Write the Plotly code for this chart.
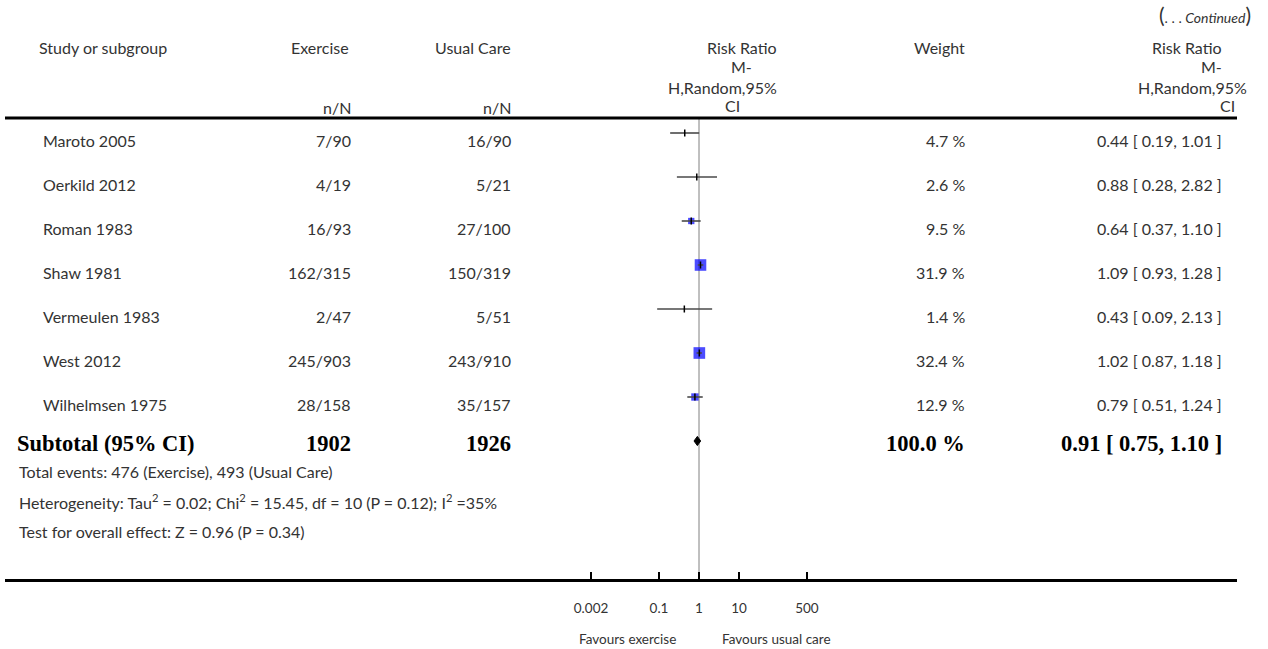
import plotly.graph_objects as go

# ---------------- data ----------------
studies = ["Maroto 2005", "Oerkild 2012", "Roman 1983", "Shaw 1981",
           "Vermeulen 1983", "West 2012", "Wilhelmsen 1975"]
exercise_nN = ["7/90", "4/19", "16/93", "162/315", "2/47", "245/903", "28/158"]
usual_nN = ["16/90", "5/21", "27/100", "150/319", "5/51", "243/910", "35/157"]
weights = [4.7, 2.6, 9.5, 31.9, 1.4, 32.4, 12.9]
rr = [0.44, 0.88, 0.64, 1.09, 0.43, 1.02, 0.79]
rr_lo = [0.19, 0.28, 0.37, 0.93, 0.09, 0.87, 0.51]
rr_hi = [1.01, 2.82, 1.10, 1.28, 2.13, 1.18, 1.24]

subtotal_label = "Subtotal (95% CI)"
subtotal_ex_N = "1902"
subtotal_uc_N = "1926"
subtotal_weight = "100.0 %"
pooled_rr = 0.91
pooled_lo = 0.75
pooled_hi = 1.10

footer_lines = [
    "Total events: 476 (Exercise), 493 (Usual Care)",
    "Heterogeneity: Tau<sup>2</sup> = 0.02; Chi<sup>2</sup> = 15.45, df = 10 (P = 0.12); I<sup>2</sup> =35%",
    "Test for overall effect: Z = 0.96 (P = 0.34)",
]

tick_vals = [0.002, 0.1, 1, 10, 500]
tick_text = ["0.002", "0.1", "1", "10", "500"]
favours_left = "Favours exercise"
favours_right = "Favours usual care"

# ---------------- layout helpers ----------------
W, H = 1268, 649
FONT = "Lato"
SERIF = "Liberation Serif"
TXT = "#333333"
FS = 16


def px(x):
    return x / W


def py(y):
    return 1 - y / H


n = len(studies)
rows = list(range(n))
sub_row = n

fig = go.Figure()

# squares (size grows with weight, tiny weights not visible)
sizes = [2.05 * (w ** 0.5) if w >= 5 else 0 for w in weights]
fig.add_trace(go.Scatter(
    x=rr, y=rows, mode="markers",
    marker=dict(symbol="square", size=sizes, color="#0000ff", line=dict(width=0)),
    hoverinfo="skip"))

# CI lines
cx, cy = [], []
for i in rows:
    cx += [rr_lo[i], rr_hi[i], None]
    cy += [i, i, None]
fig.add_trace(go.Scatter(x=cx, y=cy, mode="lines",
                         line=dict(color="#4a4a4a", width=1.6), hoverinfo="skip"))

# point estimate ticks
fig.add_trace(go.Scatter(
    x=rr, y=rows, mode="markers",
    marker=dict(symbol="line-ns", size=5, line=dict(color="black", width=1.5)),
    hoverinfo="skip"))

# pooled diamond
dh = 0.105
fig.add_trace(go.Scatter(
    x=[pooled_lo, pooled_rr, pooled_hi, pooled_rr, pooled_lo],
    y=[sub_row, sub_row - dh, sub_row, sub_row + dh, sub_row],
    mode="lines", fill="toself", fillcolor="black",
    line=dict(color="black", width=1), hoverinfo="skip"))

ann = []


def add_text(text, x, y, anchor="left", size=FS, family=FONT, yref="paper", yshift=0, color=TXT):
    ann.append(dict(text=text, x=px(x), y=y if yref == "y" else py(y),
                    xref="paper", yref=yref, xanchor=anchor, yanchor="middle",
                    showarrow=False, yshift=yshift,
                    font=dict(family=family, size=size, color=color)))


# header
add_text("<span style='font-size:21px'>(</span>. . . <i>Continued</i><span style='font-size:21px'>)</span>",
         1253, 15, anchor="right", size=14)
add_text("Study or subgroup", 37, 48)
add_text("Exercise", 351, 48, anchor="right")
add_text("Usual Care", 513, 48, anchor="right")
add_text("n/N", 353, 107, anchor="right")
add_text("n/N", 513, 107, anchor="right")
add_text("Risk Ratio", 742, 48, anchor="center")
add_text("M-", 741, 67, anchor="center")
add_text("H,Random,95%", 722, 87, anchor="center")
add_text("CI", 732, 106, anchor="center")
add_text("Weight", 967, 48, anchor="right")
add_text("Risk Ratio", 1224, 48, anchor="right")
add_text("M-", 1224, 67, anchor="right")
add_text("H,Random,95%", 1249, 87, anchor="right")
add_text("CI", 1237, 106, anchor="right")

# rows
for i in rows:
    add_text(studies[i], 41, i, yref="y", yshift=-7)
    add_text(exercise_nN[i], 353, i, anchor="right", yref="y", yshift=-7)
    add_text(usual_nN[i], 513, i, anchor="right", yref="y", yshift=-7)
    add_text(f"{weights[i]} %", 967, i, anchor="right", yref="y", yshift=-7)
    add_text(f"{rr[i]:.2f} [ {rr_lo[i]:.2f}, {rr_hi[i]:.2f} ]", 1224, i,
             anchor="right", yref="y", yshift=-7)

# subtotal
B = 22.5
add_text(f"<b>{subtotal_label}</b>", 15, sub_row, size=B, family=SERIF, yref="y", yshift=-2, color="black")
add_text(f"<b>{subtotal_ex_N}</b>", 353, sub_row, anchor="right", size=B, family=SERIF, yref="y", yshift=-2, color="black")
add_text(f"<b>{subtotal_uc_N}</b>", 513, sub_row, anchor="right", size=B, family=SERIF, yref="y", yshift=-2, color="black")
add_text(f"<b>{subtotal_weight}</b>", 967, sub_row, anchor="right", size=B, family=SERIF, yref="y", yshift=-2, color="black")
add_text(f"<b>{pooled_rr:.2f} [ {pooled_lo:.2f}, {pooled_hi:.2f} ]</b>", 1224, sub_row,
         anchor="right", size=B, family=SERIF, yref="y", yshift=-2, color="black")

for k, line in enumerate(footer_lines):
    add_text(line, 17, 471 + 30 * k, size=16)

# favours
add_text(favours_left, 678, 639, anchor="right", size=13.5)
add_text(favours_right, 720, 639, anchor="left", size=13.5)

shapes = [
    dict(type="line", xref="paper", yref="paper", x0=px(5), x1=px(1237), y0=py(118), y1=py(118),
         line=dict(color="black", width=3)),
    dict(type="line", xref="x", yref="paper", x0=1, x1=1, y0=py(119), y1=py(578),
         line=dict(color="#808080", width=1), layer="below"),
]

# axis geometry: 40 px per decade, x=1 at 699 px, axis line y=579 px
x_left, x_right, x_one, ppd = 5, 1237, 699, 40.0
row0, row_h, axis_y = 133, 44.0, 579

fig.update_layout(
    width=W, height=H, margin=dict(l=0, r=0, t=0, b=0),
    paper_bgcolor="white", plot_bgcolor="white", showlegend=False,
    annotations=ann, shapes=shapes,
    xaxis=dict(type="log", domain=[px(x_left), px(x_right)],
               range=[(x_left - x_one) / ppd, (x_right - x_one) / ppd],
               showgrid=False, zeroline=False, showline=True, linecolor="black", linewidth=3,
               ticks="inside", ticklen=7, tickwidth=2, tickcolor="black",
               tickvals=tick_vals, ticktext=tick_text, ticklabelstandoff=15,
               tickfont=dict(family=FONT, size=13.5, color=TXT), fixedrange=True),
    yaxis=dict(domain=[(H - axis_y) / H, 1],
               range=[(axis_y - row0) / row_h, (0 - row0) / row_h],
               showgrid=False, zeroline=False, showline=False, showticklabels=False,
               fixedrange=True),
)

fig.write_html("out.html", config={"displayModeBar": False},
               post_script="document.body.style.margin='0';document.body.style.overflow='hidden';")
